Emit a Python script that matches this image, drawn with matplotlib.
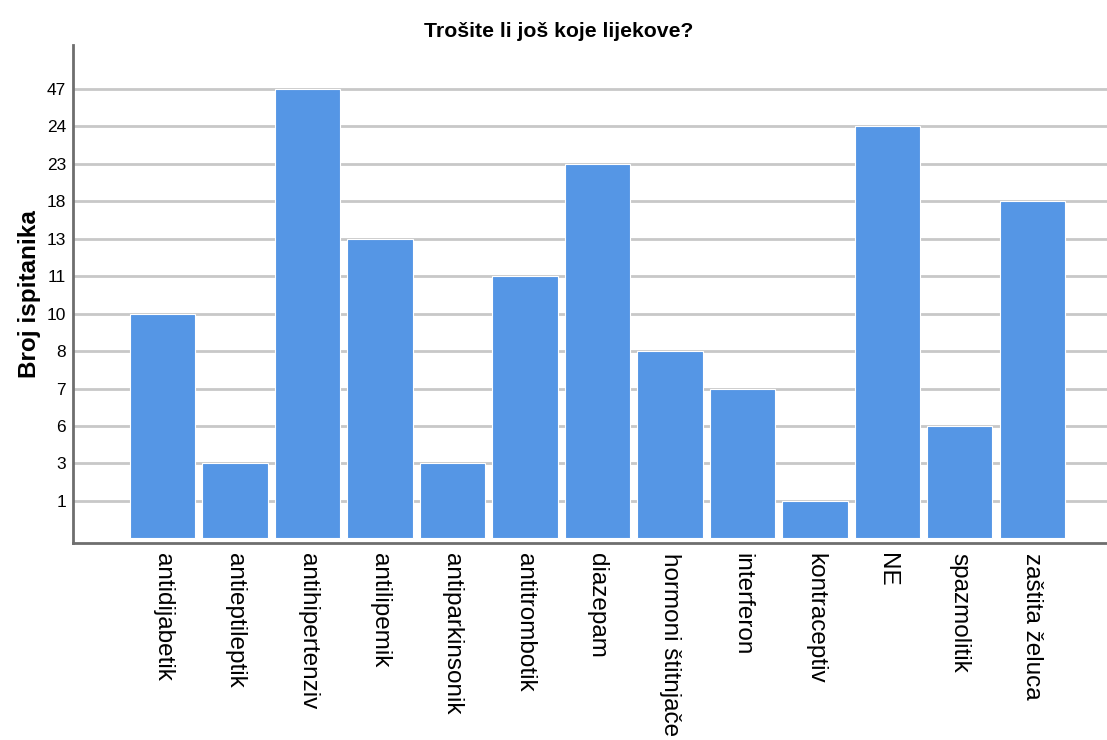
import numpy as np
import matplotlib
matplotlib.use('Agg')
import matplotlib.pyplot as plt

plt.rcParams['font.family'] = ['Liberation Sans', 'DejaVu Sans']

lijekovi = ['antidijabetik', 'antieptileptik', 'antihipertenziv', 'antilipemik',
            'antiparkinsonik', 'antitrombotik', 'diazepam', 'hormoni štitnjače',
            'interferon', 'kontraceptiv', 'NE', 'spazmolitik', 'zaštita želuca']
broj = [10, 3, 47, 13, 3, 11, 23, 8, 7, 1, 24, 6, 18]

# SPSS je os y nacrtao kao kategorije (svaka vrijednost jedna razina)
razine = sorted(set(broj))
poz = [razine.index(b) for b in broj]

fig = plt.figure(figsize=(11.07, 7.4), dpi=100)
ax = fig.add_axes([0.066, 0.266, 0.934, 0.673])

x = np.arange(len(lijekovi))
ax.bar(x, np.array(poz) + 1, bottom=-1, width=0.9, color='#5596e5',
       edgecolor='white', linewidth=0.8, zorder=3)

ax.set_ylim(-1.13, 12.17)
ax.set_xlim(-1.235, 13.03)
ax.set_yticks(range(len(razine)))
ax.set_yticklabels([str(r) for r in razine], fontsize=12.5)
ax.set_xticks(x)
ax.set_xticklabels(lijekovi, rotation=270, fontsize=17.5, va='top', ha='center')
ax.tick_params(length=0, pad=5)
ax.tick_params(axis='x', pad=7)
ax.grid(axis='y', color='#c8c8c8', linewidth=2, zorder=0)

for s in ['top', 'right']:
    ax.spines[s].set_visible(False)
for s in ['left', 'bottom']:
    ax.spines[s].set_color('#6e6e6e')
    ax.spines[s].set_linewidth(2)

ax.set_ylabel('Broj ispitanika', fontsize=17.5, fontweight='bold', labelpad=4)
fig.text(0.505, 0.958, 'Trošite li još koje lijekove?', ha='center', va='center',
         fontsize=15.3, fontweight='bold')

fig.savefig('out.png', dpi=100)
